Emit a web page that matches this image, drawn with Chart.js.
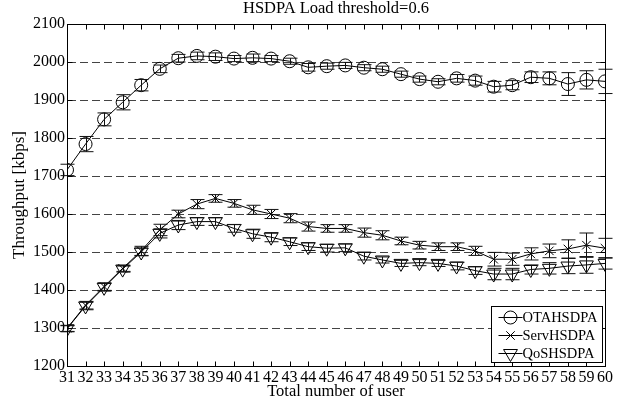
<!DOCTYPE html>
<html>
<head>
<meta charset="utf-8">
<script src="https://cdn.jsdelivr.net/npm/chart.js@4.4.0/dist/chart.umd.min.js"></script>
<style>
  body { margin: 0; background: #fff; }
</style>
</head>
<body>
<canvas id="myChart" width="636" height="405"></canvas>
<script>
// number of users on the x axis
const users = [31, 32, 33, 34, 35, 36, 37, 38, 39, 40, 41, 42, 43, 44, 45,
               46, 47, 48, 49, 50, 51, 52, 53, 54, 55, 56, 57, 58, 59, 60];

// mean throughput (kbps)
const otaHsdpa  = [1716, 1784, 1849, 1894, 1939, 1982, 2010, 2016, 2014, 2009, 2011, 2009, 2002, 1986, 1989,
                   1991, 1985, 1981, 1968, 1955, 1948, 1957, 1951, 1935, 1939, 1960, 1957, 1942, 1953, 1949];
const servHsdpa = [1299, 1360, 1409, 1457, 1503, 1558, 1600, 1626, 1641, 1628, 1611, 1600, 1589, 1567, 1562,
                   1562, 1551, 1544, 1529, 1518, 1514, 1514, 1503, 1481, 1481, 1495, 1503, 1508, 1518, 1510];
const qosHsdpa  = [1298, 1358, 1407, 1455, 1500, 1549, 1571, 1580, 1580, 1562, 1548, 1539, 1527, 1514, 1510,
                   1511, 1489, 1479, 1470, 1472, 1470, 1463, 1451, 1442, 1442, 1454, 1457, 1463, 1466, 1470];

// half width of the error bars (kbps)
const otaErr  = [15, 20, 17, 20, 15, 10, 10, 10, 10, 8, 10, 8, 8, 10, 8,
                 8, 8, 8, 8, 8, 8, 10, 12, 14, 12, 14, 17, 30, 24, 32];
const servErr = [8, 10, 10, 8, 12, 15, 10, 12, 10, 10, 12, 12, 12, 12, 10,
                 10, 12, 12, 10, 10, 10, 10, 12, 18, 16, 16, 18, 24, 32, 26];
const qosErr  = [8, 10, 10, 8, 10, 12, 12, 10, 10, 10, 12, 12, 10, 10, 10,
                 10, 10, 8, 8, 8, 8, 10, 10, 15, 15, 12, 15, 20, 22, 15];

const yTicks = [1200, 1300, 1400, 1500, 1600, 1700, 1800, 1900, 2000, 2100];

const titleText = 'HSDPA Load threshold=0.6';
const serif = "'Liberation Serif', 'Times New Roman', serif";

Chart.defaults.font.family = serif;
Chart.defaults.color = '#000';

function series(label, values, errs, style, radius, rotation) {
  return {
    label: label,
    data: users.map((u, i) => ({ x: u, y: values[i] })),
    errors: errs,
    borderColor: '#000',
    borderWidth: 1,
    pointStyle: style,
    pointRadius: radius,
    pointRotation: rotation,
    pointBorderColor: '#000',
    pointBackgroundColor: 'rgba(0,0,0,0)',
    pointBorderWidth: 1,
    tension: 0
  };
}

// error bars, frame, inward tick marks, title and legend box
const decorations = {
  id: 'decorations',
  afterDatasetsDraw(chart) {
    const ctx = chart.ctx;
    const xs = chart.scales.x, ys = chart.scales.y;
    ctx.save();
    ctx.strokeStyle = '#111';
    ctx.lineWidth = 1;
    chart.data.datasets.forEach(ds => {
      ds.data.forEach((p, i) => {
        const e = ds.errors[i];
        const px = Math.round(xs.getPixelForValue(p.x)) + 0.5;
        const y1 = ys.getPixelForValue(p.y + e);
        const y2 = ys.getPixelForValue(p.y - e);
        ctx.beginPath();
        ctx.moveTo(px, y1); ctx.lineTo(px, y2);
        ctx.moveTo(px - 7, y1); ctx.lineTo(px + 7, y1);
        ctx.moveTo(px - 7, y2); ctx.lineTo(px + 7, y2);
        ctx.stroke();
      });
    });
    ctx.restore();
  },
  afterDraw(chart) {
    const ctx = chart.ctx;
    const a = chart.chartArea;
    const xs = chart.scales.x, ys = chart.scales.y;
    ctx.save();
    ctx.strokeStyle = '#000';
    ctx.lineWidth = 1;
    const L = Math.round(a.left) + 0.5, R = Math.round(a.right) + 0.5;
    const T = Math.round(a.top) + 0.5, B = Math.round(a.bottom) + 0.5;
    ctx.strokeRect(L, T, R - L, B - T);

    // tick marks pointing inwards
    ctx.beginPath();
    users.forEach(u => {
      const px = Math.round(xs.getPixelForValue(u)) + 0.5;
      ctx.moveTo(px, B); ctx.lineTo(px, B - 5);
      ctx.moveTo(px, T); ctx.lineTo(px, T + 5);
    });
    yTicks.forEach(v => {
      const py = Math.round(ys.getPixelForValue(v)) + 0.5;
      ctx.moveTo(L, py); ctx.lineTo(L + 5, py);
      ctx.moveTo(R, py); ctx.lineTo(R - 5, py);
    });
    ctx.stroke();

    // title
    ctx.fillStyle = '#000';
    ctx.font = '16.5px ' + serif;
    ctx.textAlign = 'center';
    ctx.textBaseline = 'middle';
    ctx.fillText(titleText, (a.left + a.right) / 2, 9);

    // legend box in the lower right corner
    const bx = Math.round(a.right) - 113.5, by = Math.round(a.bottom) - 59.5;
    ctx.fillStyle = '#fff';
    ctx.fillRect(bx, by, 111, 56);
    ctx.strokeRect(bx, by, 111, 56);
    ctx.font = '14.5px ' + serif;
    ctx.textAlign = 'left';
    chart.data.datasets.forEach((ds, i) => {
      const cy = by + 11 + i * 18;
      const cx = bx + 19;
      ctx.beginPath();
      ctx.moveTo(bx + 7, cy); ctx.lineTo(bx + 31, cy);
      ctx.stroke();
      ctx.fillStyle = 'rgba(0,0,0,0)';
      Chart.helpers.drawPoint(ctx, {
        pointStyle: ds.pointStyle, radius: ds.pointRadius,
        rotation: ds.pointRotation || 0, borderWidth: 1
      }, cx, cy);
      ctx.fillStyle = '#000';
      ctx.fillText(ds.label, bx + 31, cy + 1);
    });
    ctx.restore();
  }
};

new Chart(document.getElementById('myChart'), {
  type: 'line',
  data: {
    datasets: [
      series('OTAHSDPA', otaHsdpa, otaErr, 'circle', 6.5, 0),
      series('ServHSDPA', servHsdpa, servErr, 'crossRot', 6, 0),
      series('QoSHSDPA', qosHsdpa, qosErr, 'triangle', 8, 180)
    ]
  },
  options: {
    responsive: false,
    animation: false,
    devicePixelRatio: 1,
    layout: { padding: { top: 24, right: 31, left: 0, bottom: 0 } },
    plugins: {
      legend: { display: false },
      tooltip: { enabled: false },
      title: { display: false }
    },
    scales: {
      x: {
        type: 'linear',
        min: 31,
        max: 60,
        afterFit: s => { s.height = 39; },
        ticks: { stepSize: 1, font: { size: 16 }, padding: 2, maxRotation: 0, autoSkip: false },
        grid: { display: false, drawTicks: false, tickLength: 0 },
        border: { display: true, color: '#000', width: 1 },
        title: { display: true, text: 'Total number of user', font: { size: 16.5 }, padding: { top: 0, bottom: 3 } }
      },
      y: {
        min: 1200,
        max: 2100,
        afterFit: s => { s.width = 67; },
        afterBuildTicks: s => { s.ticks = yTicks.map(v => ({ value: v })); },
        ticks: { font: { size: 16 }, padding: 2, callback: v => String(v) },
        grid: {
          drawTicks: false,
          color: c => (c.tick && (c.tick.value === 1200 || c.tick.value === 2100)) ? 'rgba(0,0,0,0)' : '#444',
          lineWidth: 1
        },
        border: { display: true, color: '#000', width: 1, dash: [8, 4] },
        title: { display: true, text: 'Throughput [kbps]', font: { size: 17 }, padding: { top: 9, bottom: 0 } }
      }
    }
  },
  plugins: [decorations]
});
</script>
</body>
</html>
